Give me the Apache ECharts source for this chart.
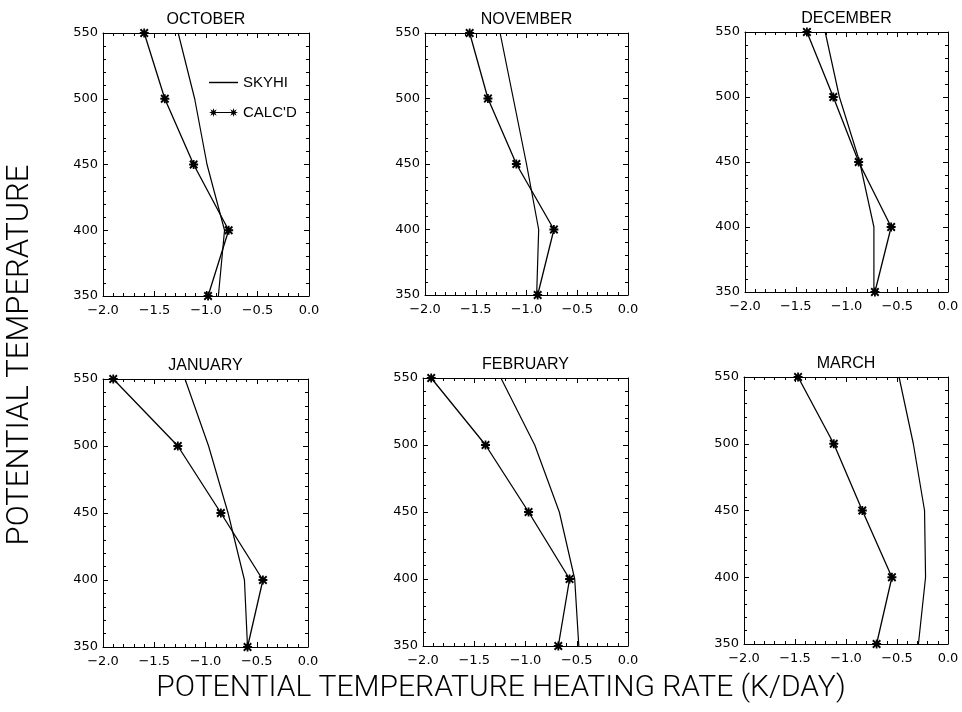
<!DOCTYPE html>
<html>
<head>
<meta charset="utf-8">
<script src="https://cdn.jsdelivr.net/npm/echarts@6/dist/echarts.min.js"></script>
<style>html,body{margin:0;padding:0;background:#fff}#c{width:962px;height:712px}</style>
</head>
<body>
<div id="c"></div>
<script>
// ---- data ----
const months = ['OCTOBER', 'NOVEMBER', 'DECEMBER', 'JANUARY', 'FEBRUARY', 'MARCH'];
const levels = [550, 500, 450, 400, 350];
const xTicks = [-2.0, -1.5, -1.0, -0.5, 0.0];
const yTicks = [350, 400, 450, 500, 550];

const skyhiOct = [-1.27, -1.11, -0.99, -0.82, -0.88];
const calcOct  = [-1.60, -1.40, -1.12, -0.78, -0.98];
const skyhiNov = [-1.26, -1.13, -1.00, -0.88, -0.90];
const calcNov  = [-1.56, -1.38, -1.10, -0.73, -0.89];
const skyhiDec = [-1.21, -1.07, -0.87, -0.73, -0.73];
const calcDec  = [-1.39, -1.13, -0.88, -0.56, -0.72];
const skyhiJan = [-1.20, -0.97, -0.78, -0.62, -0.59];
const calcJan  = [-1.90, -1.27, -0.85, -0.44, -0.59];
const skyhiFeb = [-1.24, -0.91, -0.67, -0.52, -0.48];
const calcFeb  = [-1.92, -1.39, -0.97, -0.57, -0.68];
const skyhiMar = [-0.48, -0.34, -0.23, -0.22, -0.29];
const calcMar  = [-1.47, -1.12, -0.84, -0.55, -0.70];

const skyhiAll = [skyhiOct, skyhiNov, skyhiDec, skyhiJan, skyhiFeb, skyhiMar];
const calcAll  = [calcOct, calcNov, calcDec, calcJan, calcFeb, calcMar];

// ---- layout ----
const grids = [
  {left: 103, top: 33, width: 206, height: 263},
  {left: 425, top: 33, width: 203, height: 262},
  {left: 745, top: 32, width: 203, height: 260},
  {left: 103, top: 379, width: 205, height: 268},
  {left: 423, top: 378, width: 205, height: 268},
  {left: 744, top: 377, width: 204, height: 267}
];
const TICKFONT = 'DejaVu Sans';
const TITLEFONT = 'Liberation Sans';
const star = 'path://M0,0L10,10M10,0L0,10M5,-1L5,11M-1,5L11,5';

function starPoly(cx, cy, R, r) {
  let s = '';
  for (let k = 0; k < 16; k++) {
    const a = k * Math.PI / 8;
    const rad = (k % 2 === 0) ? R : r;
    const px = (cx + rad * Math.cos(a)).toFixed(2), py = (cy + rad * Math.sin(a)).toFixed(2);
    s += (k === 0 ? 'M' : 'L') + px + ',' + py;
  }
  return s + 'Z';
}
const calcIcon = 'path://M4,4.4L24,4.4L24,5.6L4,5.6Z' + starPoly(4, 5, 4.5, 2.0) + starPoly(24, 5, 4.5, 2.0);
const skyIcon = 'path://M0,0L24,0L24,1.2L0,1.2Z';

const xAxes = [], yAxes = [], series = [], graphics = [];
const fmt = v => (v < 0 ? '\u2212' : '') + Math.abs(v).toFixed(1);
grids.forEach((g, i) => {
  const common = {
    axisLine: {show: true, onZero: false, lineStyle: {color: '#000', width: 1}},
    axisTick: {show: true, inside: true, length: 5, lineStyle: {color: '#000'}},
    minorTick: {show: true, splitNumber: 5, length: 3, lineStyle: {color: '#000'}},
    splitLine: {show: false}
  };
  xAxes.push(Object.assign({}, common, {
    gridIndex: i, type: 'value', position: 'bottom', min: xTicks[0], max: xTicks[xTicks.length - 1], interval: 0.5,
    axisLabel: {color: '#000', fontSize: 13, fontFamily: TICKFONT, margin: 8, formatter: fmt}
  }));
  xAxes.push(Object.assign({}, common, {
    gridIndex: i, type: 'value', position: 'top', min: xTicks[0], max: xTicks[xTicks.length - 1], interval: 0.5,
    axisLabel: {show: false}
  }));
  yAxes.push(Object.assign({}, common, {
    gridIndex: i, type: 'value', position: 'left', min: yTicks[0], max: yTicks[yTicks.length - 1], interval: 50,
    axisLabel: {color: '#000', fontSize: 13, fontFamily: TICKFONT, margin: 5}
  }));
  yAxes.push(Object.assign({}, common, {
    gridIndex: i, type: 'value', position: 'right', min: yTicks[0], max: yTicks[yTicks.length - 1], interval: 50,
    axisLabel: {show: false}
  }));
  series.push({
    name: 'SKYHI', type: 'line', xAxisIndex: 2 * i, yAxisIndex: 2 * i,
    data: levels.map((y, k) => [skyhiAll[i][k], y]),
    showSymbol: false, symbol: 'none', lineStyle: {color: '#000', width: 1.2}, itemStyle: {color: '#000'},
    animation: false, clip: false
  });
  series.push({
    name: "CALC'D", type: 'line', xAxisIndex: 2 * i, yAxisIndex: 2 * i,
    data: levels.map((y, k) => [calcAll[i][k], y]),
    symbol: star, symbolSize: 9, symbolKeepAspect: true,
    lineStyle: {color: '#000', width: 1.3},
    itemStyle: {color: '#000', borderColor: '#000', borderWidth: 1.8},
    animation: false, clip: false
  });
  graphics.push({
    type: 'text', x: g.left + g.width / 2, y: g.top - 13,
    style: {text: months[i], font: '16px "' + TITLEFONT + '"', fill: '#000', align: 'center', verticalAlign: 'middle'}
  });
});

graphics.push({
  type: 'text', x: 20, y: 355, rotation: Math.PI / 2,
  style: {text: 'POTENTIAL TEMPERATURE', font: '300 31px Roboto', fill: '#000', align: 'center', verticalAlign: 'middle'}
});
graphics.push({
  type: 'text', x: 501, y: 688,
  style: {text: 'POTENTIAL TEMPERATURE HEATING RATE (K/DAY)', font: '300 30px Roboto', fill: '#000', align: 'center', verticalAlign: 'middle'}
});

const chart = echarts.init(document.getElementById('c'), null, {renderer: 'canvas'});
chart.setOption({
  backgroundColor: '#fff',
  animation: false,
  grid: grids,
  xAxis: xAxes,
  yAxis: yAxes,
  series: series,
  legend: {
    data: [{name: 'SKYHI', icon: skyIcon}, {name: "CALC'D", icon: calcIcon}],
    orient: 'vertical', left: 204, top: 70, itemWidth: 29, itemHeight: 10, itemGap: 15,
    textStyle: {color: '#000', fontSize: 15, fontFamily: TITLEFONT}, selectedMode: false,
    itemStyle: {color: '#000', borderWidth: 0}
  },
  graphic: graphics
});
</script>
</body>
</html>
